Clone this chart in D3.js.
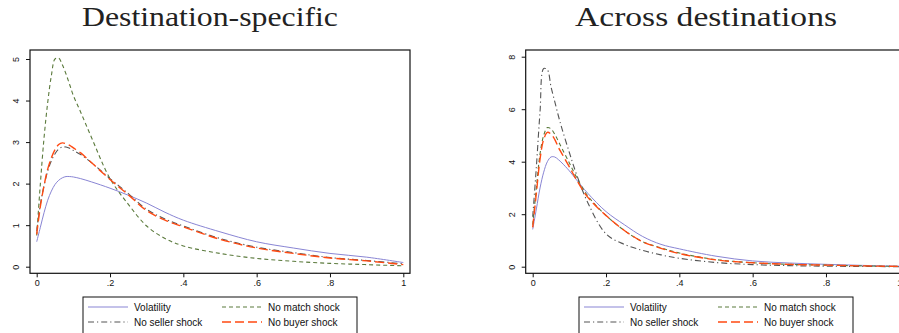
<!DOCTYPE html>
<html>
<head>
<meta charset="utf-8">
<script src="https://cdn.jsdelivr.net/npm/d3@7"></script>
<style>
  body { margin: 0; background: #fff; }
  svg { display: block; }
</style>
</head>
<body>
<svg id="chart" width="899" height="333"></svg>
<script>
// grid of x values for each panel
const xLeft = [0, .01, .02, .03, .04, .05, .06, .07, .08, .09, .1, .12, .15, .2, .25, .3, .35, .4, .5, .6, .7, .8, .9, 1];
const xRight = [0, .01, .02, .03, .04, .05, .06, .07, .08, .1, .12, .15, .2, .25, .3, .35, .4, .5, .6, .7, .8, .9, 1];

// Destination-specific densities
const leftVolatility = [.6, .95, 1.3, 1.6, 1.82, 1.98, 2.08, 2.14, 2.17, 2.17, 2.16, 2.12, 2.04, 1.89, 1.72, 1.53, 1.31, 1.12, .84, .6, .45, .32, .23, .1];
const leftMatch = [.75, 2.0, 3.1, 3.95, 4.6, 5.0, 5.02, 4.86, 4.64, 4.38, 4.12, 3.72, 3.1, 2.12, 1.5, .98, .68, .5, .32, .2, .13, .08, .05, .02];
const leftSeller = [.85, 1.5, 1.95, 2.3, 2.55, 2.72, 2.83, 2.88, 2.88, 2.85, 2.8, 2.7, 2.5, 2.12, 1.76, 1.38, 1.15, .98, .68, .47, .34, .22, .15, .07];
const leftBuyer = [.78, 1.45, 1.95, 2.35, 2.62, 2.82, 2.94, 2.98, 2.96, 2.92, 2.86, 2.74, 2.5, 2.1, 1.73, 1.35, 1.12, .96, .66, .45, .32, .21, .14, .05];

// Across destinations densities
const rightVolatility = [1.42, 2.2, 3.0, 3.6, 4.0, 4.18, 4.18, 4.08, 3.95, 3.65, 3.3, 2.8, 2.1, 1.6, 1.15, .85, .68, .4, .22, .14, .09, .05, .02];
const rightMatch = [1.6, 3.0, 4.3, 5.0, 5.3, 5.25, 5.05, 4.78, 4.5, 3.95, 3.4, 2.7, 1.95, 1.38, .95, .72, .52, .27, .15, .09, .06, .03, .01];
const rightSeller = [1.9, 3.8, 5.9, 7.55, 7.5, 6.85, 6.3, 5.75, 5.25, 4.35, 3.5, 2.45, 1.25, .85, .62, .45, .32, .16, .08, .04, .02, .01, 0];
const rightBuyer = [1.5, 2.8, 4.1, 4.85, 5.12, 5.05, 4.85, 4.55, 4.3, 3.8, 3.3, 2.65, 1.95, 1.38, .95, .7, .5, .26, .15, .09, .06, .03, .01];

const xTicks = [0, .2, .4, .6, .8, 1];
const xTickLabels = ['0', '.2', '.4', '.6', '.8', '1'];
const leftYTicks = [0, 1, 2, 3, 4, 5];
const rightYTicks = [0, 2, 4, 6, 8];

const seriesNames = ['Volatility', 'No match shock', 'No seller shock', 'No buyer shock'];
const styles = {
  'Volatility': { color: '#8985d4', dash: null, width: 1 },
  'No match shock': { color: '#5b7a3c', dash: '4,3', width: 1.1 },
  'No seller shock': { color: '#555555', dash: '6,3,1.2,3', width: 1.1 },
  'No buyer shock': { color: '#ff4a12', dash: '9,4', width: 1.4 }
};

const svg = d3.select('#chart');

function drawPanel(cfg) {
  const g = svg.append('g');
  const x = d3.scaleLinear().domain([0, 1]).range(cfg.xRange);
  const y = d3.scaleLinear().domain([0, cfg.yTop]).range([266.7, cfg.yTopPx]);

  // title
  g.append('text')
    .attr('x', cfg.titleX).attr('y', 26)
    .attr('text-anchor', 'middle')
    .attr('font-family', 'Liberation Serif, serif')
    .attr('font-size', 27)
    .attr('textLength', cfg.titleW)
    .attr('lengthAdjust', 'spacingAndGlyphs')
    .attr('fill', '#222')
    .text(cfg.title);

  // plot frame
  g.append('rect')
    .attr('x', cfg.frame).attr('y', 50)
    .attr('width', 380).attr('height', 223.3)
    .attr('fill', 'none').attr('stroke', '#111').attr('stroke-width', 1.2);

  // y axis
  const yAxis = d3.axisLeft(y).tickValues(cfg.yTicks).tickSize(4).tickFormat(d3.format('d'));
  const ya = g.append('g').attr('transform', `translate(${cfg.frame},0)`).call(yAxis);
  ya.select('.domain').remove();
  ya.selectAll('line').attr('stroke', '#111');
  ya.selectAll('text')
    .attr('font-family', 'Liberation Sans, Arial, sans-serif')
    .attr('font-size', 9).attr('fill', '#111')
    .attr('text-anchor', 'middle')
    .attr('x', 0).attr('y', 0).attr('dy', 0)
    .attr('transform', 'translate(-13,0) rotate(-90)')
    .attr('dominant-baseline', 'middle');

  // x axis
  const xAxis = d3.axisBottom(x).tickValues(xTicks).tickSize(4)
    .tickFormat((d, i) => xTickLabels[i]);
  const xa = g.append('g').attr('transform', 'translate(0,273.3)').call(xAxis);
  xa.select('.domain').remove();
  xa.selectAll('line').attr('stroke', '#111');
  xa.selectAll('text')
    .attr('font-family', 'Liberation Sans, Arial, sans-serif')
    .attr('font-size', 9).attr('fill', '#111').attr('y', 6).attr('dy', '0.71em');

  const line = d3.line()
    .x(d => x(d[0])).y(d => y(d[1]))
    .curve(d3.curveCatmullRom.alpha(0.5));

  seriesNames.forEach(name => {
    const vals = cfg.series[name];
    const st = styles[name];
    g.append('path')
      .datum(cfg.xs.map((v, i) => [v, vals[i]]))
      .attr('d', line)
      .attr('fill', 'none')
      .attr('stroke', st.color)
      .attr('stroke-width', st.width)
      .attr('stroke-dasharray', st.dash);
  });

  // legend
  const lg = g.append('g').attr('transform', `translate(${cfg.legendX},297)`);
  lg.append('rect').attr('width', 274).attr('height', 40)
    .attr('fill', '#fff').attr('stroke', '#111').attr('stroke-width', 1);
  const pos = [[5, 10], [139, 10], [5, 25], [139, 25]];
  seriesNames.forEach((name, i) => {
    const st = styles[name];
    const [lx, ly] = pos[i];
    lg.append('line')
      .attr('x1', lx).attr('x2', lx + 40).attr('y1', ly).attr('y2', ly)
      .attr('stroke', st.color).attr('stroke-width', st.width)
      .attr('stroke-dasharray', st.dash);
    lg.append('text')
      .attr('x', lx + 46).attr('y', ly).attr('dy', '0.35em')
      .attr('font-family', 'Liberation Sans, Arial, sans-serif')
      .attr('font-size', 10).attr('fill', '#111')
      .text(name);
  });
}

drawPanel({
  title: 'Destination-specific', titleX: 210, titleW: 256,
  frame: 30, xRange: [36.7, 403.3], yTop: 5, yTopPx: 59,
  yTicks: leftYTicks, xs: xLeft, legendX: 83,
  series: {
    'Volatility': leftVolatility, 'No match shock': leftMatch,
    'No seller shock': leftSeller, 'No buyer shock': leftBuyer
  }
});

drawPanel({
  title: 'Across destinations', titleX: 706, titleW: 262,
  frame: 525.7, xRange: [532.7, 899.3], yTop: 8, yTopPx: 56.7,
  yTicks: rightYTicks, xs: xRight, legendX: 579,
  series: {
    'Volatility': rightVolatility, 'No match shock': rightMatch,
    'No seller shock': rightSeller, 'No buyer shock': rightBuyer
  }
});
</script>
</body>
</html>
